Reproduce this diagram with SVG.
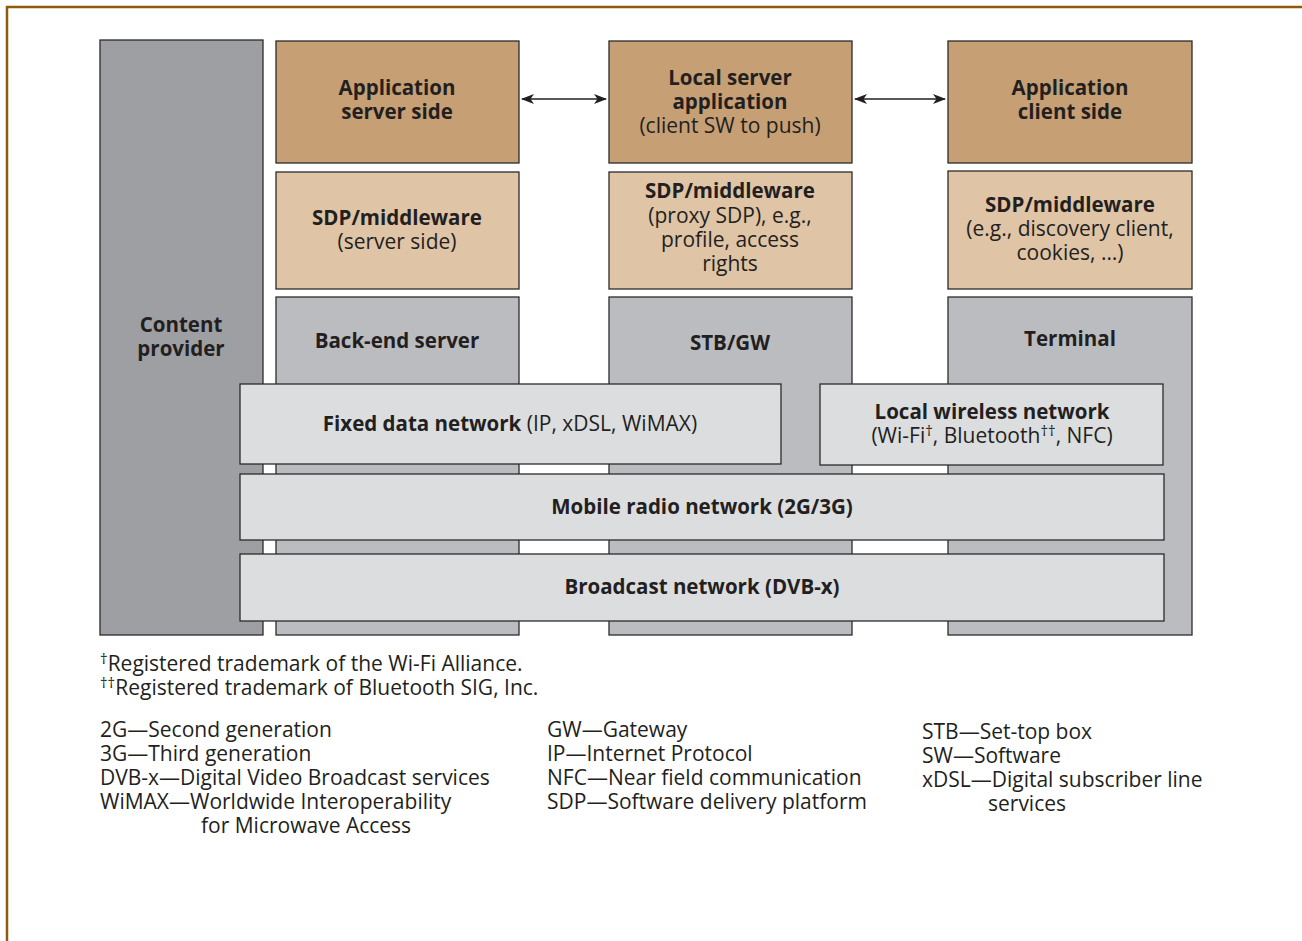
<svg xmlns="http://www.w3.org/2000/svg" width="1302" height="941" viewBox="0 0 1302 941">
  <defs>
    <marker id="ah" viewBox="0 0 13 10" refX="12" refY="5" markerWidth="13" markerHeight="10" markerUnits="userSpaceOnUse" orient="auto-start-reverse">
      <path d="M0,0 L13,5 L0,10 L3.5,5 Z" fill="#231f20"/>
    </marker>
    <style>
      text { font-family: "Open Sans", "Noto Sans", "DejaVu Sans", sans-serif; font-size: 21px; fill: #231f20; }
      .c { text-anchor: middle; }
      .b { font-weight: bold; font-size: 20.5px; }
      .box { stroke: #2b2b2b; stroke-width: 1.3; }
      .app { fill: #c69f74; }
      .sdp { fill: #dfc4a6; }
      .dev { fill: #bbbcc0; }
      .cp { fill: #9e9fa3; }
      .net { fill: #dcdddf; }
      .sup { font-size: 15px; fill: #231f20; }
      .conn { stroke: #231f20; stroke-width: 1.6; fill: none; }
    </style>
  </defs>
  <rect width="1302" height="941" fill="#ffffff"/>
  <!-- frame -->
  <path d="M7,941 V7 H1302" fill="none" stroke="#8f5a0c" stroke-width="2.5"/>

  <g id="content-provider">
    <rect class="box cp" x="100" y="40" width="163" height="595"/>
    <text class="c b" x="181" y="332">Content</text>
    <text class="c b" x="181" y="356">provider</text>
  </g>

  <g id="app-server">
    <rect class="box app" x="276" y="41" width="243" height="122"/>
    <text class="c b" x="397" y="95">Application</text>
    <text class="c b" x="397" y="119">server side</text>
  </g>
  <g id="local-server-app">
    <rect class="box app" x="609" y="41" width="243" height="122"/>
    <text class="c b" x="730" y="85">Local server</text>
    <text class="c b" x="730" y="109">application</text>
    <text class="c" x="730" y="133">(client SW to push)</text>
  </g>
  <g id="app-client">
    <rect class="box app" x="948" y="41" width="244" height="122"/>
    <text class="c b" x="1070" y="95">Application</text>
    <text class="c b" x="1070" y="119">client side</text>
  </g>

  <g id="sdp-server">
    <rect class="box sdp" x="276" y="172" width="243" height="117"/>
    <text class="c b" x="397" y="225">SDP/middleware</text>
    <text class="c" x="397" y="249">(server side)</text>
  </g>
  <g id="sdp-proxy">
    <rect class="box sdp" x="609" y="172" width="243" height="117"/>
    <text class="c b" x="730" y="198">SDP/middleware</text>
    <text class="c" x="730" y="223">(proxy SDP), e.g.,</text>
    <text class="c" x="730" y="247">profile, access</text>
    <text class="c" x="730" y="271">rights</text>
  </g>
  <g id="sdp-client">
    <rect class="box sdp" x="948" y="171" width="244" height="118"/>
    <text class="c b" x="1070" y="212">SDP/middleware</text>
    <text class="c" x="1070" y="236">(e.g., discovery client,</text>
    <text class="c" x="1070" y="260">cookies, …)</text>
  </g>

  <g id="backend-server">
    <rect class="box dev" x="276" y="297" width="243" height="338"/>
    <text class="c b" x="397" y="348">Back-end server</text>
  </g>
  <g id="stb-gw">
    <rect class="box dev" x="609" y="297" width="243" height="338"/>
    <text class="c b" x="730" y="350">STB/GW</text>
  </g>
  <g id="terminal">
    <rect class="box dev" x="948" y="297" width="244" height="338"/>
    <text class="c b" x="1070" y="346">Terminal</text>
  </g>

  <g id="fixed-network">
    <rect class="box net" x="240" y="384" width="541" height="80"/>
    <text class="c" x="510" y="431"><tspan class="b">Fixed data network</tspan> (IP, xDSL, WiMAX)</text>
  </g>
  <g id="wireless-network">
    <rect class="box net" x="820" y="384" width="343" height="81"/>
    <text class="c b" x="992" y="419">Local wireless network</text>
    <text class="c" x="992" y="443">(Wi-Fi<tspan class="sup" dy="-7">†</tspan><tspan dy="7">, Bluetooth</tspan><tspan class="sup" dy="-7">††</tspan><tspan dy="7">, NFC)</tspan></text>
  </g>
  <g id="mobile-network">
    <rect class="box net" x="240" y="474" width="924" height="66"/>
    <text class="c b" x="702" y="514">Mobile radio network (2G/3G)</text>
  </g>
  <g id="broadcast-network">
    <rect class="box net" x="240" y="554" width="924" height="67"/>
    <text class="c b" x="702" y="594">Broadcast network (DVB-x)</text>
  </g>

  <g id="connectors">
    <line class="conn" x1="522" y1="99" x2="606" y2="99" marker-start="url(#ah)" marker-end="url(#ah)"/>
    <line class="conn" x1="855" y1="99" x2="945" y2="99" marker-start="url(#ah)" marker-end="url(#ah)"/>
  </g>

  <g id="footnotes">
    <text x="100" y="671"><tspan class="sup" dy="-7">†</tspan><tspan dy="7">Registered trademark of the Wi-Fi Alliance.</tspan></text>
    <text x="100" y="695"><tspan class="sup" dy="-7">††</tspan><tspan dy="7">Registered trademark of Bluetooth SIG, Inc.</tspan></text>
  </g>

  <g id="abbreviations">
    <text x="100" y="737">2G—Second generation</text>
    <text x="100" y="761">3G—Third generation</text>
    <text x="100" y="785">DVB-x—Digital Video Broadcast services</text>
    <text x="100" y="809">WiMAX—Worldwide Interoperability</text>
    <text x="201" y="833">for Microwave Access</text>
    <text x="547" y="737">GW—Gateway</text>
    <text x="547" y="761">IP—Internet Protocol</text>
    <text x="547" y="785">NFC—Near field communication</text>
    <text x="547" y="809">SDP—Software delivery platform</text>
    <text x="922" y="739">STB—Set-top box</text>
    <text x="922" y="763">SW—Software</text>
    <text x="922" y="787">xDSL—Digital subscriber line</text>
    <text x="988" y="811">services</text>
  </g>
</svg>
